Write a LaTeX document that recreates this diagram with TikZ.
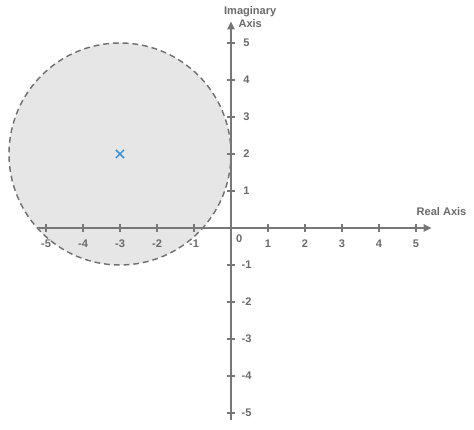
\documentclass[tikz,border=0pt]{standalone}
\usepackage{fontspec}
\setmainfont{Liberation Sans}
\usetikzlibrary{arrows.meta, positioning}
\definecolor{axisgray}{HTML}{777777}
\definecolor{labelgray}{HTML}{6A6A6A}
\definecolor{regionfill}{HTML}{E6E6E6}
\definecolor{regionedge}{HTML}{707070}
\definecolor{polecolor}{HTML}{3D8FD6}
\tikzset{
  axisline/.style  = {-{Triangle[length=6pt, width=5.5pt]}, line width=1.5pt, axisgray},
  tickmark/.style  = {-, line width=1pt, axisgray},
  ticklabel/.style = {font=\fontsize{8.5}{10}\selectfont\bfseries, text=labelgray,
                      inner sep=0pt},
  axislabel/.style = {font=\fontsize{8.5}{9.5}\selectfont\bfseries, text=labelgray,
                      align=center, inner sep=0pt},
  region/.style    = {fill=regionfill, draw=regionedge, line width=1.1pt,
                      dash pattern=on 4.5pt off 3pt},
  polex/.style     = {-, line width=1.1pt, polecolor},
}

\begin{document}
\begin{tikzpicture}[x=1cm, y=1cm, >=Latex]
    \useasboundingbox (-6.243,-5.459) rectangle (6.568,6.162);

    \coordinate (origin) at (0,0);
    \coordinate (pole) at (-3,2);
    \coordinate (xstart) at (-5.25,0);
    \coordinate (xend) at (5.42,0);
    \coordinate (ystart) at (0,-5.2);
    \coordinate (yend) at (0,5.58);

    \draw[region] (pole) circle[radius=3];

    \draw[axisline] (xstart) -- (xend);
    \draw[axisline] (ystart) -- (yend);

    \foreach \i in {-5,-4,-3,-2,-1,1,2,3,4,5} {
      \draw[tickmark] (\i,-0.1) -- (\i,0.1);
      \draw[tickmark] (-0.1,\i) -- (0.1,\i);
      \node[ticklabel] (xlab\i) at (\i,-0.42) {\i};
      \node[ticklabel] (ylab\i) at (0.42,\i) {\i};
    }
    \node[ticklabel] (zerolab) at (0.22,-0.28) {0};

    \node[axislabel] (realax) at (5.69,0.44) {Real Axis};
    \node[axislabel] (imagax) at (0.52,5.70) {Imaginary\\Axis};

    \draw[polex] ([shift={(-0.11,-0.11)}]pole) -- ([shift={(0.11,0.11)}]pole);
    \draw[polex] ([shift={(-0.11,0.11)}]pole) -- ([shift={(0.11,-0.11)}]pole);
  \end{tikzpicture}
\end{document}
